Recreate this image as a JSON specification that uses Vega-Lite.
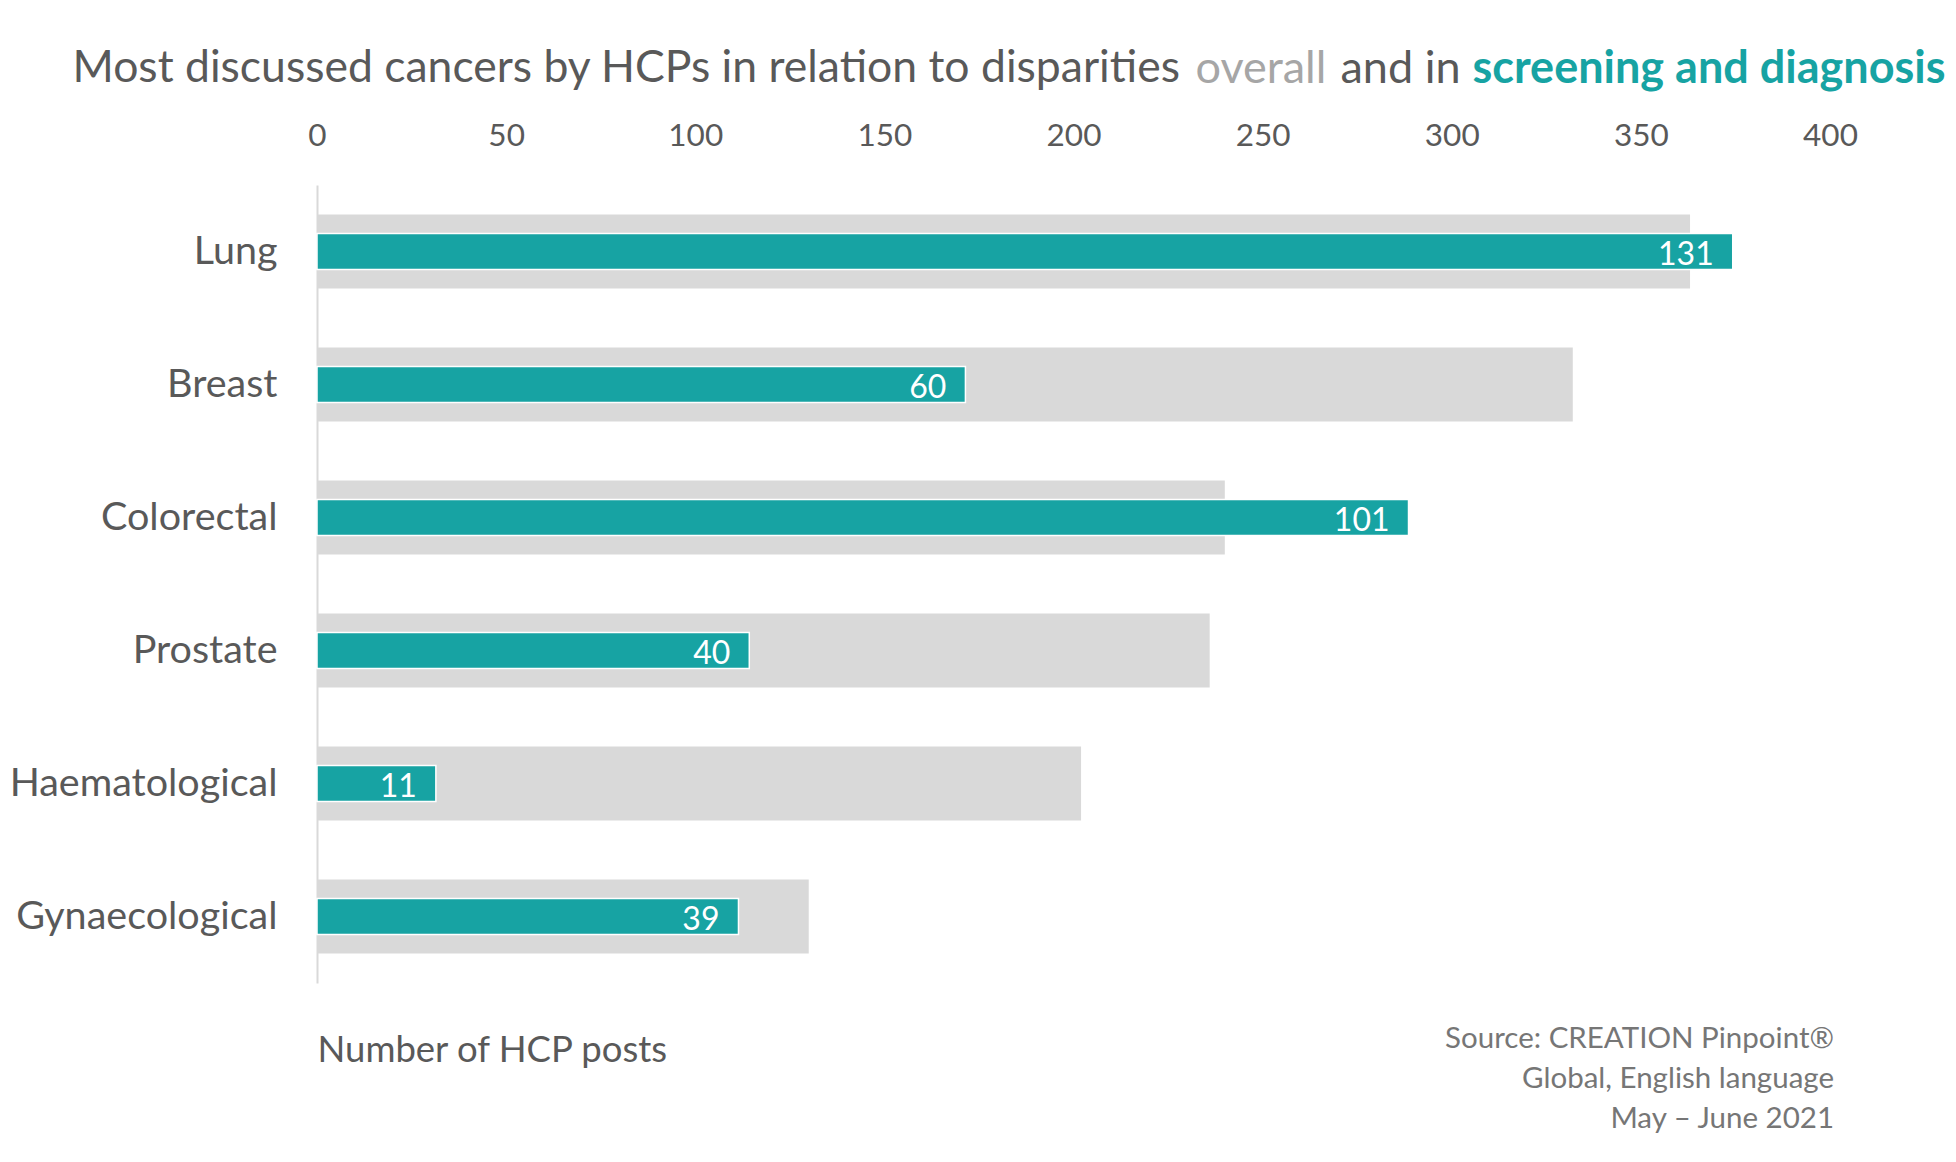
{
  "$schema": "https://vega.github.io/schema/vega-lite/v6.json",
  "autosize": "none",
  "width": 1513,
  "height": 798,
  "padding": {"left": 317, "top": 185, "right": 126, "bottom": 179},
  "background": "white",
  "config": {
    "font": "Lato",
    "view": {"stroke": null},
    "axis": {"grid": false, "ticks": false, "domain": false, "labelFont": "Lato", "titleFont": "Lato", "titleFontWeight": "normal"}
  },
  "title": {
    "text": ["Source: CREATION Pinpoint®", "Global, English language", "May – June 2021"],
    "orient": "bottom",
    "anchor": "end",
    "frame": "group",
    "fontSize": 29.5,
    "fontWeight": "normal",
    "color": "#767676",
    "lineHeight": 40,
    "offset": -44,
    "dx": 4
  },
  "data": {
    "values": [
      {"cancer": "Lung", "overall": 363, "screening": 131},
      {"cancer": "Breast", "overall": 332, "screening": 60},
      {"cancer": "Colorectal", "overall": 240, "screening": 101},
      {"cancer": "Prostate", "overall": 236, "screening": 40},
      {"cancer": "Haematological", "overall": 202, "screening": 11},
      {"cancer": "Gynaecological", "overall": 130, "screening": 39}
    ]
  },
  "layer": [
    {
      "mark": {"type": "bar", "color": "#d9d9d9", "size": 74},
      "encoding": {
        "y": {
          "field": "cancer", "type": "nominal", "sort": null,
          "axis": {
            "domain": true, "domainColor": "#d9d9d9", "domainWidth": 2,
            "labelFontSize": 39.5, "labelColor": "#595959", "labelPadding": 40, "labelLimit": 400,
            "title": "and in", "titleAngle": 0, "titleX": 1023, "titleY": -117,
            "titleAlign": "left", "titleBaseline": "middle", "titleFontSize": 45, "titleColor": "#595959"
          }
        },
        "x": {
          "field": "overall", "type": "quantitative",
          "scale": {"domain": [0, 400], "nice": false},
          "axis": {
            "orient": "top", "values": [0, 50, 100, 150, 200, 250, 300, 350, 400],
            "labelFlush": false, "labelFontSize": 31.5, "labelColor": "#595959", "labelPadding": 33,
            "title": "Most discussed cancers by HCPs in relation to disparities",
            "titleX": -245, "titleY": -117, "titleAlign": "left", "titleBaseline": "middle",
            "titleFontSize": 44.5, "titleColor": "#595959"
          }
        }
      }
    },
    {
      "mark": {"type": "bar", "color": "#17a3a3", "size": 36, "stroke": "white", "strokeWidth": 1.5},
      "encoding": {
        "y": {
          "field": "cancer", "type": "nominal", "sort": null,
          "axis": {
            "orient": "right", "labels": false,
            "title": "overall", "titleAngle": 0, "titleX": -635, "titleY": -117,
            "titleAlign": "left", "titleBaseline": "middle", "titleFontSize": 45, "titleColor": "#a6a6a6"
          }
        },
        "x": {
          "field": "screening", "type": "quantitative",
          "scale": {"domain": [0, 140], "nice": false},
          "axis": {
            "orient": "bottom", "labels": false,
            "title": "Number of HCP posts", "titleX": 0, "titleY": 67,
            "titleAlign": "left", "titleBaseline": "middle", "titleFontSize": 36.5, "titleColor": "#595959"
          }
        }
      }
    },
    {
      "mark": {"type": "text", "color": "white", "fontSize": 32, "align": "right", "baseline": "middle", "dx": -19, "dy": 3},
      "encoding": {
        "y": {"field": "cancer", "type": "nominal", "sort": null, "axis": null},
        "x": {
          "field": "screening", "type": "quantitative",
          "scale": {"domain": [0, 140], "nice": false},
          "axis": {
            "orient": "top", "labels": false,
            "title": "screening and diagnosis", "titleX": 1155, "titleY": -117,
            "titleAlign": "left", "titleBaseline": "middle", "titleFontSize": 45,
            "titleFontWeight": "bold", "titleColor": "#17a3a3"
          }
        },
        "text": {"field": "screening", "type": "quantitative"}
      }
    }
  ],
  "resolve": {"scale": {"x": "independent"}, "axis": {"x": "independent", "y": "independent"}}
}
